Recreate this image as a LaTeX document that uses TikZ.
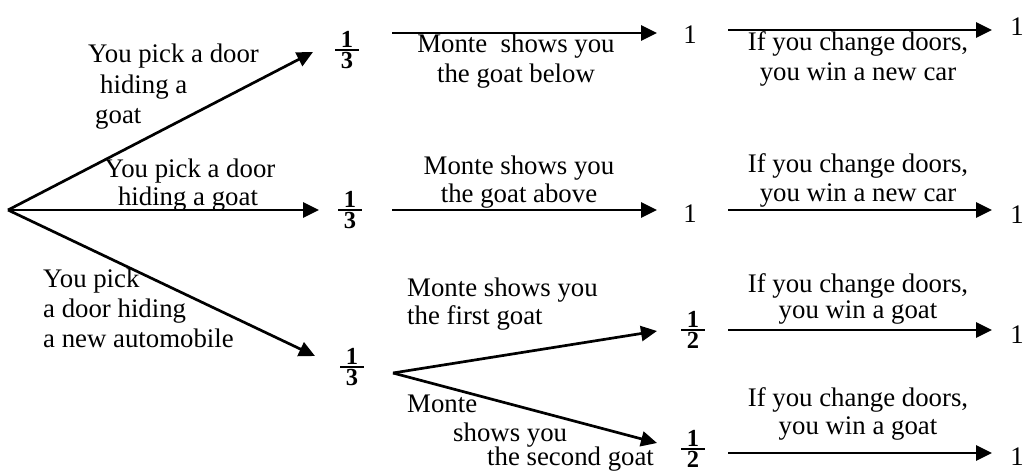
\documentclass[tikz,border=0pt]{standalone}
\usepackage{fontspec}
\setmainfont{Liberation Serif}
\usetikzlibrary{arrows.meta}
\newcommand{\fr}[2]{\vbox{\hbox to 24pt{\hfil\bfseries #1\hfil}\kern1.8pt\hrule height 1.5pt\kern2pt\hbox to 24pt{\hfil\bfseries #2\hfil}}}
\tikzset{
  txt/.style={inner sep=0pt, font=\fontsize{26.8}{30}\selectfont},
  lft/.style={txt, anchor=base west},
  ctr/.style={txt, anchor=base},
  frac/.style={inner sep=0pt, font=\fontsize{24.5}{28}\selectfont},
  arr/.style={line width=2.7pt, -{Triangle[length=16pt,width=15pt]}},
}
\begin{document}
\begin{tikzpicture}[x=1pt,y=-1pt]
\useasboundingbox (0,0) rectangle (1025,471);
% points
\coordinate (root) at (8,210);
\coordinate (t1) at (313,52);
\coordinate (t2) at (319,210);
\coordinate (t3) at (315,356);
\coordinate (a1s) at (392,33);  \coordinate (a1e) at (657,33);
\coordinate (a2s) at (392,210); \coordinate (a2e) at (657,210);
\coordinate (split) at (393,373);
\coordinate (s1e) at (657,331);
\coordinate (s2e) at (657,443);
\coordinate (b1s) at (728,30);  \coordinate (b1e) at (992,30);
\coordinate (b2s) at (728,210); \coordinate (b2e) at (992,210);
\coordinate (b3s) at (728,330); \coordinate (b3e) at (992,330);
\coordinate (b4s) at (728,453); \coordinate (b4e) at (992,453);
% arrows
\draw[arr] (root) -- (t1);
\draw[arr] (root) -- (t2);
\draw[arr] (root) -- (t3);
\draw[arr] (a1s) -- (a1e);
\draw[arr] (a2s) -- (a2e);
\draw[arr] (split) -- (s1e);
\draw[arr] (split) -- (s2e);
\draw[arr] (b1s) -- (b1e);
\draw[arr] (b2s) -- (b2e);
\draw[arr] (b3s) -- (b3e);
\draw[arr] (b4s) -- (b4e);
% fractions
\node[frac] (f1) at (347,50) {\fr{1}{3}};
\node[frac] (f2) at (350,210) {\fr{1}{3}};
\node[frac] (f3) at (352,367) {\fr{1}{3}};
\node[frac] (h1) at (693,330) {\fr{1}{2}};
\node[frac] (h2) at (693,449) {\fr{1}{2}};
% ones
\node[txt] (o1) at (690,35) {1};
\node[txt] (o2) at (690,214) {1};
\node[txt] (o3) at (1017,27) {1};
\node[txt] (o4) at (1017,215) {1};
\node[txt] (o5) at (1017,335) {1};
\node[txt] (o6) at (1017,457) {1};
% first-stage labels
\node[lft] (l1a) at (88,62) {You pick a door};
\node[lft] (l1b) at (100,93) {hiding a};
\node[lft] (l1c) at (95,123) {goat};
\node[ctr] (l2a) at (190,177) {You pick a door};
\node[ctr] (l2b) at (188,205) {hiding a goat};
\node[lft] (l3a) at (43,287) {You pick};
\node[lft] (l3b) at (43,317) {a door hiding};
\node[lft] (l3c) at (43,347) {a new automobile};
% second-stage labels
\node[ctr] (m1a) at (516,52) {Monte\ \ shows you};
\node[ctr] (m1b) at (516,82) {the goat below};
\node[ctr] (m2a) at (519,174) {Monte shows you};
\node[ctr] (m2b) at (519,202) {the goat above};
\node[lft] (m3a) at (407,296) {Monte shows you};
\node[lft] (m3b) at (407,324) {the first goat};
\node[lft] (m4a) at (407,412) {Monte};
\node[lft] (m4b) at (453,441) {shows you};
\node[lft] (m4c) at (487,465) {the second goat};
% third-stage labels
\node[ctr] (c1a) at (858,50) {If you change doors,};
\node[ctr] (c1b) at (858,80) {you win a new car};
\node[ctr] (c2a) at (858,172) {If you change doors,};
\node[ctr] (c2b) at (858,201) {you win a new car};
\node[ctr] (c3a) at (858,292) {If you change doors,};
\node[ctr] (c3b) at (858,318) {you win a goat};
\node[ctr] (c4a) at (858,406) {If you change doors,};
\node[ctr] (c4b) at (858,434) {you win a goat};
\end{tikzpicture}
\end{document}
